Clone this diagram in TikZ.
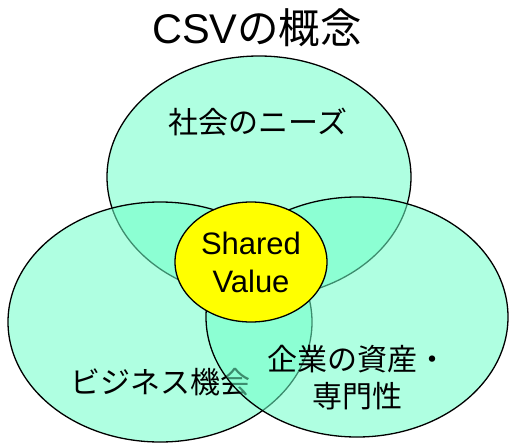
\documentclass[tikz,border=0pt]{standalone}
\usepackage{fontspec}
\usepackage{tikz}
\setmainfont{Liberation Sans}
\newfontfamily\jpfont{Noto Sans CJK JP}
\usetikzlibrary{shapes.geometric}
\definecolor{mint}{RGB}{110,255,200}
\definecolor{sunny}{RGB}{255,255,0}
\tikzset{
    field/.style={
           ellipse,
           draw=black, line width=1.3pt,
           fill=mint, fill opacity=0.55,
           inner sep=0pt,
           },
    core/.style={
           ellipse,
           draw=black, line width=1.3pt,
           fill=sunny,
           inner sep=0pt,
           align=center,
           font=\fontsize{31}{38}\selectfont,
           },
    label/.style={
           align=center,
           font=\fontsize{30}{37}\selectfont\jpfont,
           },
}

\begin{document}
\begin{tikzpicture}[x=1pt, y=-1pt]
    \useasboundingbox (0,0) rectangle (510,444);

    % title
    \node (title) at (257,28)
    {\fontsize{41.5}{44}\selectfont CSV{\jpfont の概念}};

    % the three fields, each with its text put down before the next field
    \node[field, minimum width=304pt, minimum height=242pt] (needs) at (259,177) {};
    \node[label] (needstext) at (258,122) {社会のニーズ};

    \node[field, minimum width=304pt, minimum height=240pt] (business) at (160,322) {};
    \node[label] (businesstext) at (160,382) {ビジネス機会};

    \node[field, minimum width=302pt, minimum height=240pt] (assets) at (357,317) {};
    \node[label] (assetstext) at (357,378) {企業の資産・\\専門性};

    % shared value in the middle
    \node[core, minimum width=152pt, minimum height=120pt] (shared) at (251,262)
    {Shared\\Value};
\end{tikzpicture}
\end{document}
